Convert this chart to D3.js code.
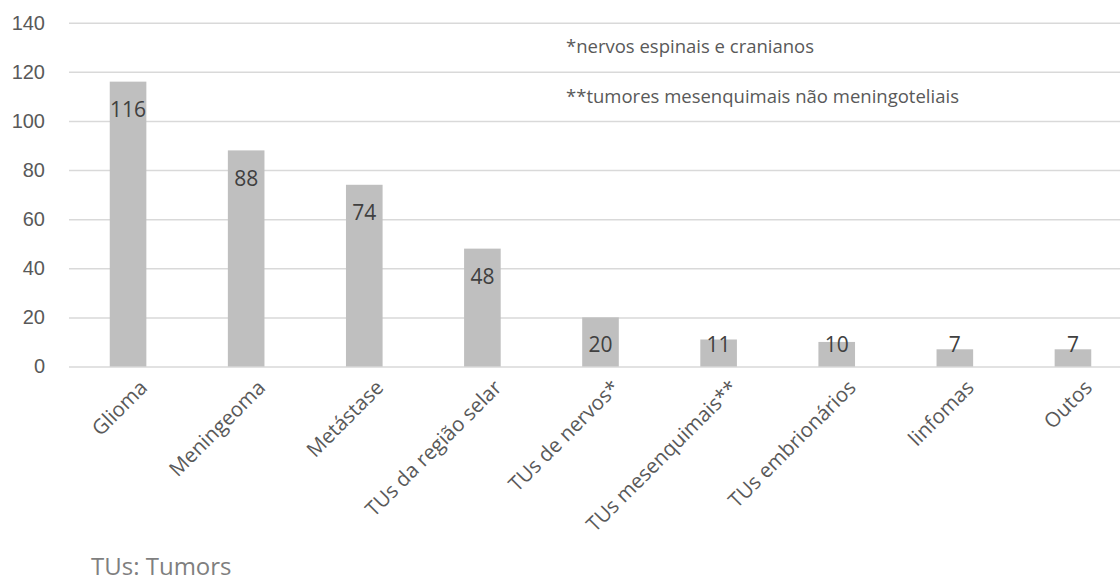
<!DOCTYPE html>
<html>
<head>
<meta charset="utf-8">
<script src="https://cdn.jsdelivr.net/npm/d3@7"></script>
<style>
  html, body { margin: 0; padding: 0; background: #ffffff; }
  svg { display: block; font-family: "Open Sans", "Noto Sans", sans-serif; }
</style>
</head>
<body>
<svg id="chart" width="1120" height="582"></svg>
<script>
// Tumour types and case counts
const categories = [
  "Glioma", "Meningeoma", "Metástase", "TUs da região selar",
  "TUs de nervos*", "TUs mesenquimais**", "TUs embrionários", "linfomas", "Outos"
];
const counts = [116, 88, 74, 48, 20, 11, 10, 7, 7];
const yTicks = [0, 20, 40, 60, 80, 100, 120, 140];
const notes = ["*nervos espinais e cranianos", "**tumores mesenquimais não meningoteliais"];
const footnote = "TUs: Tumors";

const svg = d3.select("#chart");

const plot = { left: 69, right: 1132, top: 22.7, bottom: 366.5 };

const x = d3.scaleBand()
  .domain(categories)
  .range([plot.left, plot.right])
  .paddingInner(0.69)
  .paddingOuter(0.345);

const y = d3.scaleLinear()
  .domain([0, 140])
  .range([plot.bottom, plot.top]);

// Horizontal gridlines with value labels on the left
const yAxis = d3.axisLeft(y)
  .tickValues(yTicks)
  .tickSize(-(plot.right - plot.left))
  .tickPadding(24);

const gy = svg.append("g")
  .attr("transform", `translate(${plot.left},0)`)
  .call(yAxis);
gy.select(".domain").remove();
gy.selectAll(".tick line").attr("stroke", "#d9d9d9").attr("stroke-width", 1.5);
gy.selectAll(".tick text")
  .attr("fill", "#595959")
  .style("font-size", "20px");

// Bars
svg.append("g")
  .selectAll("rect")
  .data(counts)
  .join("rect")
  .attr("x", (d, i) => x(categories[i]))
  .attr("y", d => y(d))
  .attr("width", x.bandwidth())
  .attr("height", d => y(0) - y(d))
  .attr("fill", "#bfbfbf");

// Value labels just inside the top of each bar, kept above the baseline
svg.append("g")
  .selectAll("text")
  .data(counts)
  .join("text")
  .attr("x", (d, i) => x(categories[i]) + x.bandwidth() / 2)
  .attr("y", d => Math.min(y(d) + 28, y(0) - 21.5))
  .attr("dy", "0.35em")
  .attr("text-anchor", "middle")
  .attr("fill", "#404040")
  .style("font-size", "21px")
  .text(d => d);

// Category labels, slanted
const gx = svg.append("g")
  .attr("transform", `translate(0,${plot.bottom})`)
  .call(d3.axisBottom(x).tickSize(0).tickFormat(""));
gx.select(".domain").remove();

svg.append("g")
  .selectAll("text")
  .data(categories)
  .join("text")
  .attr("transform", d => `translate(${x(d) + x.bandwidth() / 2 + 10},${plot.bottom + 12}) rotate(-45)`)
  .attr("dy", "0.72em")
  .attr("text-anchor", "end")
  .attr("fill", "#595959")
  .style("font-size", "20.5px")
  .text(d => d);

// Notes explaining the asterisks
svg.append("g")
  .selectAll("text")
  .data(notes)
  .join("text")
  .attr("x", 566)
  .attr("y", (d, i) => 47 + i * 50)
  .attr("dy", "0.35em")
  .attr("fill", "#595959")
  .style("font-size", "18.5px")
  .text(d => d);

svg.append("text")
  .attr("x", 91)
  .attr("y", 575)
  .attr("fill", "#7f7f7f")
  .style("font-size", "24px")
  .text(footnote);
</script>
</body>
</html>
